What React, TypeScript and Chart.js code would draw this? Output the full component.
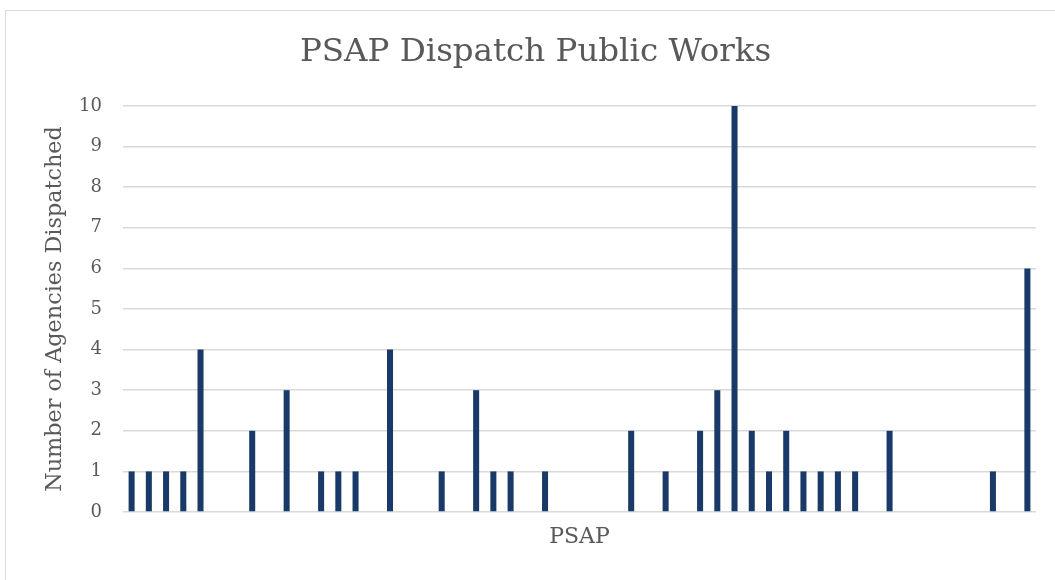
import React, { useEffect, useRef } from "react";
import { Chart, registerables } from "chart.js";

Chart.register(...registerables);

const chartTitle = "PSAP Dispatch Public Works";
const xAxisTitle = "PSAP";
const yAxisTitle = "Number of Agencies Dispatched";

const categories: string[] = [
  "1", "2", "3", "4", "5", "6", "7", "8", "9", "10",
  "11", "12", "13", "14", "15", "16", "17", "18", "19", "20",
  "21", "22", "23", "24", "25", "26", "27", "28", "29", "30",
  "31", "32", "33", "34", "35", "36", "37", "38", "39", "40",
  "41", "42", "43", "44", "45", "46", "47", "48", "49", "50",
  "51", "52", "53",
];

const agenciesDispatched: number[] = [
  1, 1, 1, 1, 4, 0, 0, 2, 0, 3,
  0, 1, 1, 1, 0, 4, 0, 0, 1, 0,
  3, 1, 1, 0, 1, 0, 0, 0, 0, 2,
  0, 1, 0, 2, 3, 10, 2, 1, 2, 1,
  1, 1, 1, 0, 2, 0, 0, 0, 0, 0,
  1, 0, 6,
];

const yMin = 0;
const yMax = 10;
const yStep = 1;

const FONT = "'DejaVu Serif', 'Liberation Serif', serif";
const TEXT = "#595959";

export default function App() {
  const ref = useRef<HTMLCanvasElement | null>(null);

  useEffect(() => {
    const canvas = ref.current;
    if (!canvas) return;
    const chart = new Chart(canvas, {
      type: "bar",
      data: {
        labels: categories,
        datasets: [
          {
            label: "Agencies",
            data: agenciesDispatched,
            backgroundColor: "#193A68",
            borderWidth: 0,
            barPercentage: 0.35,
            categoryPercentage: 1,
          },
        ],
      },
      options: {
        responsive: false,
        animation: false,
        devicePixelRatio: 1,
        layout: { padding: { left: 30, right: 30, top: 0, bottom: 0 } },
        plugins: {
          legend: { display: false },
          tooltip: { enabled: false },
          title: {
            display: true,
            text: chartTitle,
            color: TEXT,
            font: { family: FONT, size: 32.5, weight: "normal" },
            padding: { top: 23, bottom: 34 },
          },
        },
        scales: {
          x: {
            grid: { display: false, drawTicks: false },
            border: { display: false },
            ticks: { display: false },
            title: {
              display: true,
              text: xAxisTitle,
              color: TEXT,
              font: { family: FONT, size: 22, weight: "normal" },
              padding: { top: 0, bottom: 30 },
            },
            afterFit: (scale: any) => {
              scale.height = 68;
            },
          },
          y: {
            min: yMin,
            max: yMax,
            grid: { color: "#d9d9d9", lineWidth: 1.5, drawTicks: false },
            border: { display: false },
            ticks: {
              stepSize: yStep,
              color: TEXT,
              padding: 21,
              font: { family: FONT, size: 18 },
            },
            title: {
              display: true,
              text: yAxisTitle,
              color: TEXT,
              font: { family: FONT, size: 22.3, weight: "normal" },
              padding: { top: 7, bottom: 0 },
            },
            afterFit: (scale: any) => {
              scale.width = 88;
            },
          },
        },
      },
    });
    return () => chart.destroy();
  }, []);

  return (
    <div
      style={{
        position: "fixed",
        left: 0,
        top: 0,
        width: 1055,
        height: 580,
        overflow: "hidden",
        background: "#ffffff",
      }}
    >
      <div
        style={{
          position: "absolute",
          left: 5,
          top: 10,
          width: 1100,
          height: 700,
          border: "1.5px solid #d9d9d9",
          boxSizing: "border-box",
        }}
      />
      <canvas
        ref={ref}
        width={1061}
        height={570}
        style={{ position: "absolute", left: 5, top: 10, width: 1061, height: 570 }}
      />
    </div>
  );
}
